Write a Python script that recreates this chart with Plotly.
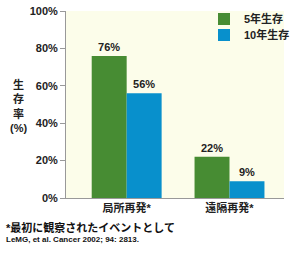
import plotly.graph_objects as go

categories = ["局所再発*", "遠隔再発*"]
series_names = ["5年生存", "10年生存"]
five_year = [76, 22]
ten_year = [56, 9]
y_ticks = [0, 20, 40, 60, 80, 100]
y_tick_labels = ["0%", "20%", "40%", "60%", "80%", "100%"]

FONT = "Liberation Sans, Arial, Noto Sans CJK JP, sans-serif"
GREEN = "#478c33"
BLUE = "#0890cc"

L, R, T, B = 66, 16, 11, 62
pw, ph = 300 - L - R, 260 - T - B

def px(x, y):
    return (x - L) / pw, 1 - (y - T) / ph

fig = go.Figure()
for name, vals, col, lg in [(series_names[0], five_year, GREEN, "legend"),
                            (series_names[1], ten_year, BLUE, "legend2")]:
    fig.add_trace(go.Bar(
        x=categories, y=vals, name=name, marker=dict(color=col, line=dict(width=0)),
        texttemplate="%{y}%", textposition="outside", cliponaxis=False, legend=lg,
        textfont=dict(family=FONT, size=11, color="#222", weight="bold"),
    ))

lfont = dict(family=FONT, size=11, color="#222", weight="bold")
lx, ly1 = px(204, 19)
_, ly2 = px(204, 35)
fig.update_layout(
    width=300, height=260,
    margin=dict(l=L, r=R, t=T, b=B, autoexpand=False),
    paper_bgcolor="white", plot_bgcolor="#fcfdea",
    barmode="group", bargap=0.32, bargroupgap=0,
    font=dict(family=FONT, size=11, color="#222"),
    showlegend=True,
    legend=dict(x=lx, y=ly1, xanchor="left", yanchor="middle", bgcolor="rgba(0,0,0,0)",
                font=lfont, itemwidth=30),
    legend2=dict(x=lx, y=ly2, xanchor="left", yanchor="middle", bgcolor="rgba(0,0,0,0)",
                 font=lfont, itemwidth=30),
    xaxis=dict(range=[-0.59, 1.53], showline=True, linecolor="#999", linewidth=1, automargin=False,
               ticks="", tickfont=dict(family=FONT, size=11, color="#222", weight="bold")),
    yaxis=dict(range=[0, 100], tickvals=y_ticks, ticktext=y_tick_labels, showgrid=False, automargin=False,
               zeroline=False, showline=True, linecolor="#999", linewidth=1,
               ticks="outside", ticklen=5, tickcolor="#999",
               tickfont=dict(family=FONT, size=11, color="#222", weight="bold")),
)

ax, ay = px(18, 106)
fig.add_annotation(x=ax, y=ay, xref="paper", yref="paper", text="生<br>存<br>率<br>(%)",
                   showarrow=False, xanchor="center", yanchor="middle",
                   font=dict(family=FONT, size=11, color="#222", weight="bold"))
ax, ay = px(4, 227)
fig.add_annotation(x=ax, y=ay, xref="paper", yref="paper", text="*最初に観察されたイベントとして",
                   showarrow=False, xanchor="left", yanchor="middle",
                   font=dict(family=FONT, size=11, color="#111", weight="bold"))
ax, ay = px(4, 239)
fig.add_annotation(x=ax, y=ay, xref="paper", yref="paper", text="LeMG, et al. Cancer 2002; 94: 2813.",
                   showarrow=False, xanchor="left", yanchor="middle",
                   font=dict(family=FONT, size=8, color="#111", weight="bold"))

fig.write_html("out.html")
